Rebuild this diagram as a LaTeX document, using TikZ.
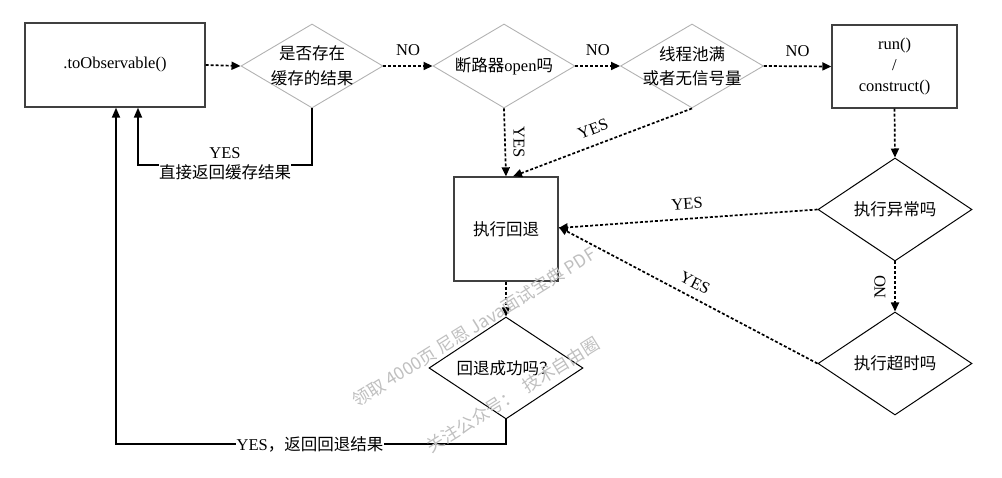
\documentclass[tikz,border=0pt]{standalone}
\usepackage{fontspec}
\setmainfont{Liberation Serif}
\newfontfamily\cjk{Noto Sans CJK SC}
\usetikzlibrary{shapes.geometric,arrows.meta,calc}
\begin{document}
\begin{tikzpicture}[x=1pt,y=-1pt,
  txt/.style={font=\fontsize{16.5}{21}\selectfont},
  box/.style={draw=black!75, line width=1.3pt, inner sep=0pt, txt, align=center},
  gdia/.style={diamond, draw=black!30, line width=0.9pt, inner sep=0pt},
  bdia/.style={diamond, draw=black, line width=1pt, inner sep=0pt},
  intext/.style={font=\fontsize{16.5}{24.5}\selectfont, align=center, inner sep=0pt},
  darr/.style={line width=1.7pt, dash pattern=on 3pt off 2pt, -{Triangle[length=9pt,width=8pt]}},
  sarr/.style={line width=1.8pt, -{Triangle[length=10pt,width=8pt]}},
  lab/.style={txt, inner sep=1pt},
  wm/.style={font=\cjk\fontsize{17.5}{20}\selectfont, text=black!25, rotate=32}
]
\useasboundingbox (0,0) rectangle (1002,478);

% nodes
\node[box, minimum width=180pt, minimum height=84pt] (obs) at (115,65) {.toObservable()};
\node[gdia, minimum width=142pt, minimum height=84pt, label={[intext]center:{\cjk 是否存在}\\{\cjk 缓存的结果}}] (d1) at (312,66) {};
\node[gdia, minimum width=142pt, minimum height=84pt, label={[intext]center:{\cjk 断路器}open{\cjk 吗}}] (d2) at (504,66) {};
\node[gdia, minimum width=143pt, minimum height=84pt, label={[intext]center:{\cjk 线程池满}\\{\cjk 或者无信号量}}] (d3) at (692,66) {};
\node[box, minimum width=125pt, minimum height=83pt] (run) at (894.5,66.5) {run()\\/\\construct()};
\node[box, minimum width=104pt, minimum height=104pt] (fb) at (506,229) {\cjk 执行回退};
\node[bdia, minimum width=154pt, minimum height=103pt, label={[intext]center:{\cjk 执行异常吗}}] (d4) at (895,209.5) {};
\node[bdia, minimum width=154pt, minimum height=103pt, label={[intext]center:{\cjk 执行超时吗}}] (d5) at (895,363.5) {};
\node[bdia, minimum width=154pt, minimum height=102pt, label={[intext]center:{\cjk 回退成功吗？}}] (d6) at (506,368) {};

\coordinate (c1) at (138,165);
\coordinate (c2) at (116,444);

% connectors
\draw[darr] (obs.east) -- (d1.west);
\draw[darr] (d1.east) -- node[lab, midway, above=8pt] {NO} (d2.west);
\draw[darr] (d2.east) -- node[lab, midway, above=8pt] {NO} (d3.west);
\draw[darr] (d3.east) -- node[lab, midway, above=8pt] {NO} (run.west);
\draw[darr] (d2.south) -- (fb.north);
\draw[darr] (d3.south) -- ([xshift=7pt]fb.north);
\draw[darr] (run.south) -- (d4.north);
\draw[darr] (d4.west) -- ([yshift=1pt]fb.east);
\draw[darr] (d4.south) -- (d5.north);
\draw[darr] (d5.west) -- ([yshift=2pt]fb.east);
\draw[darr] (fb.south) -- (d6.north);
\draw[sarr] (d1.south) |- (c1) -- (obs.south -| c1);
\draw[sarr] (d6.south) |- (c2) -- (obs.south -| c2);

% labels
\node[lab] (yes1) at (519,142) [rotate=-90] {YES};
\node[lab] (yes2) at (593,129) [rotate=21] {YES};
\node[lab] (yes3) at (687,204) [rotate=4] {YES};
\node[lab] (yes4) at (695,283) [rotate=-27] {YES};
\node[lab] (no4) at (880,287) [rotate=90] {NO};
\node[lab, fill=white, align=center, inner sep=0pt, font=\fontsize{16.5}{20}\selectfont] (l1) at (225,164) {YES\\{\cjk 直接返回缓存结果}};
\node[lab, fill=white, inner sep=1pt] (l2) at (310,444) {YES{\cjk ，返回回退结果}};

% watermark
\node[wm] (wm1) at (474,327) {领取 4000页 尼恩 Java面试宝典 PDF};
\node[wm] (wm2) at (513,395) {关注公众号：\ \ 技术自由圈};
\end{tikzpicture}
\end{document}
